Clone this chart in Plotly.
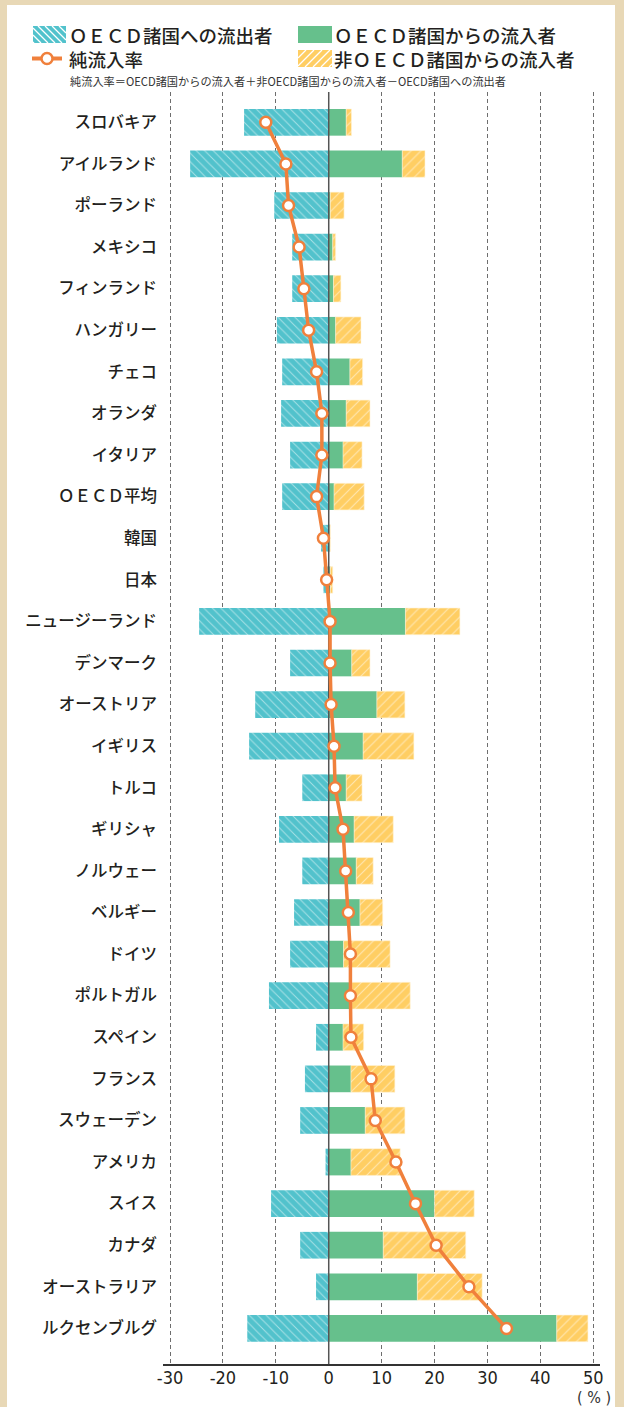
import plotly.graph_objects as go

# ---------------- data ----------------
countries = [
    "スロバキア", "アイルランド", "ポーランド", "メキシコ", "フィンランド",
    "ハンガリー", "チェコ", "オランダ", "イタリア", "ＯＥＣＤ平均",
    "韓国", "日本", "ニュージーランド", "デンマーク", "オーストリア",
    "イギリス", "トルコ", "ギリシャ", "ノルウェー", "ベルギー",
    "ドイツ", "ポルトガル", "スペイン", "フランス", "スウェーデン",
    "アメリカ", "スイス", "カナダ", "オーストラリア", "ルクセンブルグ",
]
# OECD諸国への流出者 (%), plotted to the left
outflow_oecd = [16.0, 26.2, 10.3, 6.9, 6.9, 9.8, 8.8, 9.0, 7.3, 8.8,
                1.45, 1.0, 24.5, 7.3, 13.9, 15.05, 5.0, 9.4, 5.0, 6.55,
                7.3, 11.3, 2.4, 4.5, 5.4, 0.6, 10.9, 5.4, 2.4, 15.4]
# OECD諸国からの流入者 (%)
inflow_oecd = [3.3, 13.9, 0.3, 0.75, 0.9, 1.3, 4.0, 3.3, 2.7, 1.0,
               0.2, 0.3, 14.5, 4.35, 9.1, 6.5, 3.3, 4.8, 5.2, 5.9,
               2.8, 4.35, 2.7, 4.2, 6.9, 4.2, 20.0, 10.3, 16.75, 43.1]
# 非OECD諸国からの流入者 (%)
inflow_non_oecd = [1.0, 4.3, 2.6, 0.55, 1.4, 4.8, 2.4, 4.5, 3.6, 5.7,
                   0.1, 0.45, 10.3, 3.45, 5.3, 9.6, 3.0, 7.4, 3.2, 4.3,
                   8.8, 11.05, 3.9, 8.3, 7.5, 9.3, 7.5, 15.6, 12.25, 5.9]
# 純流入率 (%)
net_rate = [-11.9, -8.1, -7.6, -5.6, -4.7, -3.8, -2.3, -1.3, -1.3, -2.3,
            -1.0, -0.4, 0.25, 0.25, 0.45, 1.0, 1.2, 2.7, 3.2, 3.7,
            4.1, 4.1, 4.2, 8.0, 8.8, 12.7, 16.4, 20.3, 26.5, 33.6]
x_ticks = [-30, -20, -10, 0, 10, 20, 30, 40, 50]

# ---------------- styling ----------------
W, H = 624, 1407
L, R, T, B = 163, 24, 92, 43
PW, PH = W - L - R, H - T - B
TEAL = "#52C2CC"
GREEN = "#66C08C"
YELLOW = "#FFCE63"
ORANGE = "#F0803C"
BEIGE = "#E8D8B6"
TXT = "#231F20"
JP = "Noto Sans CJK JP, Noto Sans, sans-serif"
NARROW = "Liberation Sans Narrow, DejaVu Sans Condensed, Roboto, sans-serif"

X_RANGE = [-31.33, 51.28]
Y_RANGE = [29.856, -0.729]

def fx(px):
    return (px - L) / PW

def fy(py):
    return 1 - (py - T) / PH

pos = list(range(len(countries)))

fig = go.Figure()
fig.add_trace(go.Bar(
    y=pos, x=[-v for v in outflow_oecd], orientation="h",
    name="OECD諸国への流出者",
    marker=dict(color=TEAL, line=dict(width=0),
                pattern=dict(shape="\\", fgcolor="white", fillmode="overlay",
                             size=6, solidity=0.16)),
    hoverinfo="skip",
))
fig.add_trace(go.Bar(
    y=pos, x=inflow_oecd, orientation="h",
    name="OECD諸国からの流入者",
    marker=dict(color=GREEN, line=dict(width=0)),
    hoverinfo="skip",
))
fig.add_trace(go.Bar(
    y=pos, x=inflow_non_oecd, orientation="h",
    name="非OECD諸国からの流入者",
    marker=dict(color=YELLOW, line=dict(width=0.6, color="#FFF3D6"),
                pattern=dict(shape="/", fgcolor="white", fillmode="overlay",
                             size=7, solidity=0.16)),
    hoverinfo="skip",
))
# zero reference line (above bars, below the net-rate line)
fig.add_trace(go.Scatter(
    x=[0, 0], y=Y_RANGE, mode="lines",
    line=dict(color="#555555", width=1.5), hoverinfo="skip", showlegend=False,
))
fig.add_trace(go.Scatter(
    y=pos, x=net_rate, mode="lines+markers", name="純流入率",
    line=dict(color=ORANGE, width=3.5),
    marker=dict(size=11, color="white", line=dict(color=ORANGE, width=2.5)),
    hoverinfo="skip",
))

shapes = []
# white panel over the beige paper
shapes.append(dict(type="rect", xref="paper", yref="paper",
                   x0=fx(7), x1=fx(615), y0=fy(1430), y1=fy(5),
                   fillcolor="white", line=dict(width=0), layer="below"))

def striped_swatch(x0, y0, x1, y1, color, direction, step):
    out = [dict(type="rect", xref="paper", yref="paper",
                x0=fx(x0), x1=fx(x1), y0=fy(y1), y1=fy(y0),
                fillcolor=color, line=dict(width=0))]
    if direction is None:
        return out
    if direction == "\\":
        c = y0 - x1
        while c < y1 - x0:
            a = max(x0, y0 - c)
            b = min(x1, y1 - c)
            if b > a:
                out.append(dict(type="line", xref="paper", yref="paper",
                                x0=fx(a), y0=fy(a + c), x1=fx(b), y1=fy(b + c),
                                line=dict(color="white", width=1.2)))
            c += step
    else:
        c = x0 + y0
        while c < x1 + y1:
            a = max(x0, c - y1)
            b = min(x1, c - y0)
            if b > a:
                out.append(dict(type="line", xref="paper", yref="paper",
                                x0=fx(a), y0=fy(c - a), x1=fx(b), y1=fy(c - b),
                                line=dict(color="white", width=1.2)))
            c += step
    return out

shapes += striped_swatch(33, 26, 66, 43, TEAL, "\\", 7)
shapes += striped_swatch(298, 26, 332, 43, GREEN, None, 7)
shapes += striped_swatch(298, 50, 332, 67, YELLOW, "/", 8)
# line legend icon
shapes.append(dict(type="line", xref="paper", yref="paper",
                   x0=fx(32), x1=fx(62), y0=fy(58.5), y1=fy(58.5),
                   line=dict(color=ORANGE, width=4)))
shapes.append(dict(type="circle", xref="paper", yref="paper",
                   x0=fx(41.5), x1=fx(52.5), y0=fy(64), y1=fy(53),
                   fillcolor="white", line=dict(color=ORANGE, width=2.5)))

annotations = []
def note(text, px, py, size, weight="normal", xanchor="left", font=JP, color=TXT):
    annotations.append(dict(text=text, xref="paper", yref="paper",
                            x=fx(px), y=fy(py), xanchor=xanchor, yanchor="middle",
                            showarrow=False, borderpad=0,
                            font=dict(family=font, size=size, color=color, weight=weight)))

note("ＯＥＣＤ諸国への流出者", 68, 35, 18.5, 500)
note("ＯＥＣＤ諸国からの流入者", 333, 35, 18.5, 500)
note("純流入率", 68, 58.5, 18.5, 500)
note("非ＯＥＣＤ諸国からの流入者", 333, 58.5, 18.5, 500)
note("純流入率＝OECD諸国からの流入者＋非OECD諸国からの流入者－OECD諸国への流出者",
     69, 81, 11.2, color="#333333")
note("( % )", 594, 1397.5, 16, xanchor="center", font=NARROW, color="#333333")

fig.update_layout(
    width=W, height=H,
    margin=dict(l=L, r=R, t=T, b=B, pad=0),
    paper_bgcolor=BEIGE, plot_bgcolor="rgba(0,0,0,0)",
    barmode="relative", bargap=0.358,
    showlegend=False,
    shapes=shapes, annotations=annotations,
    xaxis=dict(range=X_RANGE, tickvals=x_ticks, ticktext=[str(v) for v in x_ticks],
               showgrid=True, gridcolor="#6E6E6E", griddash="4px,3px", gridwidth=1.2,
               zeroline=False, showline=True, linecolor="#333333", linewidth=1.6,
               ticks="", ticklabelstandoff=-3,
               tickfont=dict(family=NARROW, size=18, color=TXT), fixedrange=True),
    yaxis=dict(range=Y_RANGE, tickvals=pos, ticktext=countries,
               showgrid=False, zeroline=False, showline=False, ticks="",
               ticklabelstandoff=5,
               tickfont=dict(family=JP, size=16.5, color=TXT, weight=500),
               fixedrange=True),
)

fig.write_html("out.html", config={"displayModeBar": False},
               post_script="document.body.style.margin='0px';document.body.style.overflow='hidden';")
